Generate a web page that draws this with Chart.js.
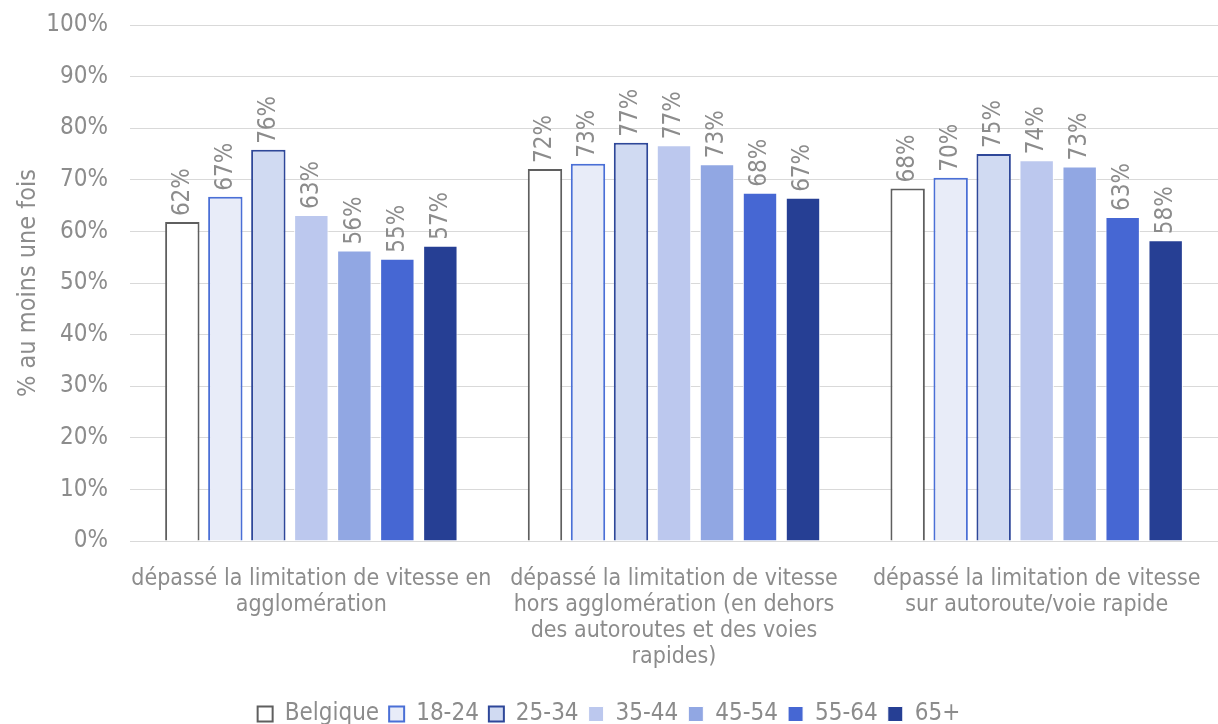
<!DOCTYPE html>
<html>
<head>
<meta charset="utf-8">
<script src="https://cdn.jsdelivr.net/npm/chart.js@4"></script>
<style>
  body { margin: 0; background: #fff; }
</style>
</head>
<body>
<canvas id="chart" width="1218" height="724"></canvas>
<script>
const FONT = "'DejaVu Sans Condensed', 'DejaVu Sans', sans-serif";
const GREY = "#8c8c8c";

// categories (already split into lines like the original)
const categories = [
  ["dépassé la limitation de vitesse en", "agglomération"],
  ["dépassé la limitation de vitesse", "hors agglomération (en dehors", "des autoroutes et des voies", "rapides)"],
  ["dépassé la limitation de vitesse", "sur autoroute/voie rapide"],
];

const seriesNames = ["Belgique", "18-24", "25-34", "35-44", "45-54", "55-64", "65+"];

// values in %, one array per series
const belgique = [61.8, 72.1, 68.3];
const age1824 = [66.7, 73.1, 70.4];
const age2534 = [75.8, 77.2, 75.0];
const age3544 = [63.2, 76.7, 73.8];
const age4554 = [56.3, 73.0, 72.6];
const age5564 = [54.7, 67.5, 62.8];
const age65 = [57.2, 66.5, 58.3];

const yTicks = [0, 10, 20, 30, 40, 50, 60, 70, 80, 90, 100];

const fills = ["#ffffff", "#e8ecf8", "#d0daf2", "#bcc8ee", "#91a7e3", "#4667d3", "#263f94"];
const borders = ["#5f5f5f", "#4a6fd6", "#2e4799", "#ffffff", "#ffffff", "#ffffff", "#ffffff"];
const borderW = [2, 2, 2, 1, 1, 1, 1];

const values = [belgique, age1824, age2534, age3544, age4554, age5564, age65];

const barLabels = {
  id: "barLabels",
  afterDatasetsDraw(chart) {
    const ctx = chart.ctx;
    ctx.save();
    ctx.font = "24px " + FONT;
    ctx.fillStyle = GREY;
    chart.data.datasets.forEach((ds, i) => {
      chart.getDatasetMeta(i).data.forEach((bar, j) => {
        ctx.save();
        ctx.translate(bar.x, bar.y - 6);
        ctx.rotate(-Math.PI / 2);
        ctx.textAlign = "left";
        ctx.textBaseline = "middle";
        ctx.fillText(Math.round(ds.data[j]) + "%", 0, 0);
        ctx.restore();
      });
    });
    ctx.restore();
  },
};

new Chart(document.getElementById("chart"), {
  type: "bar",
  data: {
    labels: categories,
    datasets: seriesNames.map((name, i) => ({
      label: name,
      data: values[i],
      backgroundColor: fills[i],
      borderColor: borders[i],
      borderWidth: borderW[i],
      categoryPercentage: 0.83,
      barPercentage: 0.8,
    })),
  },
  options: {
    responsive: false,
    animation: false,
    layout: { padding: { left: 0, right: 0, top: 25, bottom: -12 } },
    plugins: {
      legend: {
        position: "bottom",
        labels: {
          font: { family: FONT, size: 24 },
          color: GREY,
          boxWidth: 15,
          boxHeight: 15,
          padding: 10,
        },
      },
      tooltip: { enabled: false },
    },
    scales: {
      x: {
        grid: { display: false },
        border: { color: "#d9d9d9", width: 1 },
        afterFit(axis) {
          axis.height = 151;
          axis.paddingTop = 0;
        },
        ticks: {
          color: GREY,
          font: { family: FONT, size: 23, lineHeight: 1.13 },
          padding: 17,
          maxRotation: 0,
          autoSkip: false,
        },
      },
      y: {
        min: 0,
        max: 100,
        afterBuildTicks(axis) {
          axis.ticks = yTicks.map((v) => ({ value: v }));
        },
        afterFit(axis) {
          axis.width = 130;
          axis.paddingTop = 0;
          axis.paddingBottom = 0;
        },
        grid: { color: "#d9d9d9", drawTicks: false },
        border: { display: false },
        ticks: {
          color: GREY,
          font: { family: FONT, size: 24 },
          padding: 22,
          callback: (v) => v + "%",
        },
        title: {
          display: true,
          text: "% au moins une fois",
          color: GREY,
          font: { family: FONT, size: 25 },
          padding: { top: 13, bottom: 0 },
        },
      },
    },
  },
  plugins: [barLabels],
});
</script>
</body>
</html>
